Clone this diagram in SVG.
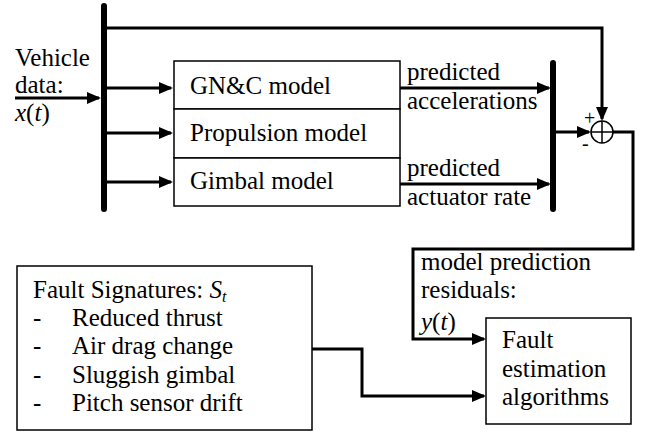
<svg xmlns="http://www.w3.org/2000/svg" width="655" height="436" viewBox="0 0 655 436" font-family="'Liberation Serif', 'DejaVu Serif', serif">
<style>
text{font-family:'Liberation Serif','DejaVu Serif',serif;font-size:25px;fill:#000}
.it{font-style:italic}
.box{fill:#fff;stroke:#000;stroke-width:1.5}
.bus{stroke:#000;stroke-width:6;stroke-linecap:round;fill:none}
.conn{stroke:#000;stroke-width:3;fill:none;stroke-linejoin:miter}
.arr{marker-end:url(#ah)}
.sign{font-size:20px}
</style>
<defs>
<marker id="ah" viewBox="0 0 14 12" refX="12" refY="6" markerWidth="14" markerHeight="12" markerUnits="userSpaceOnUse" orient="auto">
<path d="M0,0 L14,6 L0,12 z" fill="#000"/>
</marker>
</defs>

<g id="input-label">
<text x="15" y="66">Vehicle</text>
<text x="15" y="93">data:</text>
<text x="15" y="121"><tspan class="it">x</tspan>(<tspan class="it">t</tspan>)</text>
</g>

<g id="bus-left"><line class="bus" x1="104" y1="6" x2="104" y2="209"/></g>

<g id="gnc-model">
<rect class="box" x="174" y="61" width="226" height="48"/>
<text x="190" y="94">GN&amp;C model</text>
</g>
<g id="propulsion-model">
<rect class="box" x="174" y="109" width="226" height="49"/>
<text x="190" y="141">Propulsion model</text>
</g>
<g id="gimbal-model">
<rect class="box" x="174" y="158" width="226" height="48"/>
<text x="190" y="189">Gimbal model</text>
</g>

<g id="bus-right"><line class="bus" x1="553" y1="63" x2="553" y2="209"/></g>

<g id="sum-junction">
<circle cx="602" cy="132" r="11" fill="#fff" stroke="#000" stroke-width="1.5"/>
<line x1="591" y1="132" x2="613" y2="132" stroke="#000" stroke-width="1.5"/>
<line x1="602" y1="121" x2="602" y2="143" stroke="#000" stroke-width="1.5"/>
<text class="sign" x="584" y="125">+</text>
<text class="sign" x="582" y="150">-</text>
</g>

<g id="fault-signatures">
<rect class="box" x="17" y="266" width="295" height="164"/>
<text x="33" y="298">Fault Signatures: <tspan class="it">S</tspan><tspan class="it" font-size="16" dy="4">t</tspan></text>
<text x="33" y="326">-</text><text x="72" y="326">Reduced thrust</text>
<text x="33" y="354">-</text><text x="72" y="354">Air drag change</text>
<text x="33" y="383">-</text><text x="72" y="383">Sluggish gimbal</text>
<text x="33" y="411">-</text><text x="72" y="411">Pitch sensor drift</text>
</g>

<g id="fault-estimation">
<rect class="box" x="486" y="318" width="145" height="106"/>
<text x="502" y="348">Fault</text>
<text x="502" y="377">estimation</text>
<text x="502" y="405">algorithms</text>
</g>

<g id="connectors">
<path class="conn arr" d="M15,98 H99"/>
<path class="conn arr" d="M106,88 H171"/>
<path class="conn arr" d="M106,133 H171"/>
<path class="conn arr" d="M106,182 H171"/>
<path class="conn arr" d="M400,88 H549"/>
<path class="conn arr" d="M400,184 H549"/>
<path class="conn arr" d="M104,28 H602 V119"/>
<path class="conn arr" d="M556,132 H589"/>
<path class="conn arr" d="M613,132 H633 V249 H413 V339 H484"/>
<path class="conn arr" d="M312,349 H362 V396 H484"/>
</g>

<g id="connector-labels">
<text x="407" y="80">predicted</text>
<text x="407" y="109">accelerations</text>
<text x="407" y="176">predicted</text>
<text x="407" y="205">actuator rate</text>
<text x="421" y="270">model prediction</text>
<text x="421" y="298">residuals:</text>
<text x="421" y="330"><tspan class="it">y</tspan>(<tspan class="it">t</tspan>)</text>
</g>
</svg>
